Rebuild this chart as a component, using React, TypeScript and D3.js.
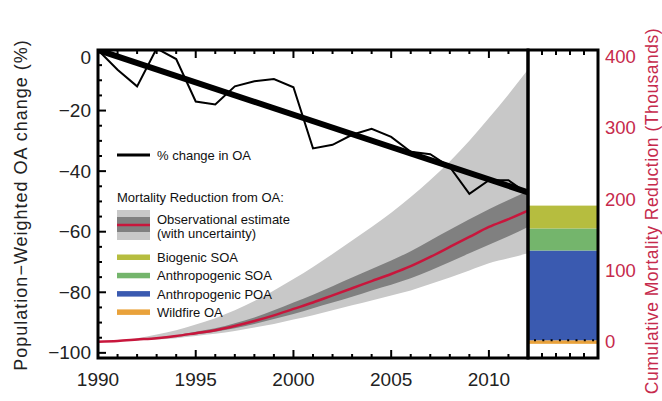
import React from 'react';
import * as d3 from 'd3';

// annual values, 1990-2012
const years = [1990, 1991, 1992, 1993, 1994, 1995, 1996, 1997, 1998, 1999, 2000, 2001,
  2002, 2003, 2004, 2005, 2006, 2007, 2008, 2009, 2010, 2011, 2012];
const oaChange = [0, -6.5, -12, 0.5, -3, -17, -18, -12, -10.3, -9.6, -12.3, -32.5,
  -31.3, -28, -26, -28.7, -33.6, -34.4, -38.6, -47.5, -43, -43, -47.5];
const trendYears = [1990, 2012];
const trendValues = [0, -47];

// cumulative mortality reduction (thousands)
const mortCentral = [0, 1, 3, 5, 8, 12, 16, 22, 29, 37, 46, 55, 65, 75, 85, 95, 106, 119, 133, 147, 161, 172, 184];
const mortUpperDark = [0, 1, 3, 6, 9, 14, 19, 26, 34, 44, 55, 66, 78, 90, 102, 114, 127, 142, 157, 172, 186, 199, 212];
const mortLowerDark = [0, 1, 2, 4, 7, 10, 14, 19, 25, 32, 39, 47, 55, 63, 72, 80, 89, 100, 112, 124, 136, 148, 161];
const mortUpperLight = [0, 2, 5, 10, 16, 24, 33, 44, 57, 72, 88, 105, 123, 142, 161, 181, 203, 227, 253, 282, 314, 347, 382];
const mortLowerLight = [0, 1, 2, 3, 5, 8, 11, 15, 20, 25, 31, 37, 44, 51, 58, 65, 72, 81, 90, 100, 110, 117, 124];

// stacked bar by source
const barNames = ['Wildfire OA', 'Anthropogenic POA', 'Anthropogenic SOA', 'Biogenic SOA'];
const barValues = [5, 126, 31, 32];
const barBase = -3;
const barColors = ['#e9a23b', '#3a5ab0', '#74b56c', '#b6bd3f'];

const leftTicks = [0, -20, -40, -60, -80, -100];
const rightTicks = [0, 100, 200, 300, 400];
const xTickLabels = [1990, 1995, 2000, 2005, 2010];

const RED = '#c8163c';
const RED_TEXT = '#c62a4c';
const LIGHT = '#c8c8c8';
const DARK = '#808080';
const FONT = '"Liberation Sans", Arial, sans-serif';

export default function App() {
  const x = d3.scaleLinear().domain([1990, 2012]).range([98, 528]);
  const yL = d3.scaleLinear().domain([-101.7, 0]).range([358, 50]);
  const yR = d3.scaleLinear().domain([0, 400]).range([341.7, 56.7]);
  const bx = d3.scaleLinear().domain([0, 5]).range([528, 598]);

  const band = (lo: number[], hi: number[]) =>
    d3.area<number>()
      .x((d, i) => x(years[i]))
      .y0((d, i) => yR(lo[i]))
      .y1((d, i) => yR(hi[i]))
      .curve(d3.curveMonotoneX)(years) as string;

  const redLine = d3.line<number>()
    .x((d, i) => x(years[i]))
    .y(d => yR(d))
    .curve(d3.curveMonotoneX)(mortCentral) as string;

  const oaLine = d3.line<number>()
    .x((d, i) => x(years[i]))
    .y(d => yL(d))(oaChange) as string;

  const trendLine = d3.line<number>()
    .x((d, i) => x(trendYears[i]))
    .y(d => yL(d))(trendValues) as string;

  // stacked segments
  let acc = barBase;
  const segs = barValues.map((v, i) => {
    const s = { y0: acc, y1: acc + v, color: barColors[i], name: barNames[i] };
    acc += v;
    return s;
  });

  const yearTicks = x.ticks(22);
  const leftMinor = yL.ticks(20).filter(v => v >= -100 && v <= 0);
  const barTicks = [1, 2, 3, 4];

  const legendItems = [
    { name: 'Biogenic SOA', color: barColors[3] },
    { name: 'Anthropogenic SOA', color: barColors[2] },
    { name: 'Anthropogenic POA', color: barColors[1] },
    { name: 'Wildfire OA', color: barColors[0] },
  ];

  return (
    <svg width={662} height={401} style={{ position: 'absolute', left: 0, top: 0, background: '#fff' }}
      fontFamily={FONT}>
      <defs>
        <clipPath id="plot">
          <rect x={98} y={50} width={430} height={308} />
        </clipPath>
      </defs>

      <g clipPath="url(#plot)">
        <path d={band(mortLowerLight, mortUpperLight)} fill={LIGHT} />
        <path d={band(mortLowerDark, mortUpperDark)} fill={DARK} />
        <path d={redLine} fill="none" stroke={RED} strokeWidth={2.5} />
        <path d={oaLine} fill="none" stroke="#000" strokeWidth={2} strokeLinejoin="miter" />
        <path d={trendLine} fill="none" stroke="#000" strokeWidth={6} />
      </g>

      {/* legend */}
      <g fontSize={13} fill="#111">
        <line x1={117} x2={150} y1={155} y2={155} stroke="#000" strokeWidth={3} />
        <text x={157} y={155} dominantBaseline="central">% change in OA</text>
        <text x={117} y={197} dominantBaseline="central">Mortality Reduction from OA:</text>
        <rect x={117} y={210} width={33} height={30} fill={LIGHT} />
        <rect x={117} y={217} width={33} height={15} fill={DARK} />
        <line x1={117} x2={150} y1={225} y2={225} stroke={RED} strokeWidth={2.5} />
        <text x={157} y={219} dominantBaseline="central">Observational estimate</text>
        <text x={157} y={233} dominantBaseline="central">(with uncertainty)</text>
        {legendItems.map((d, i) => (
          <g key={d.name}>
            <rect x={117} y={254.5 + i * 18.3} width={33} height={5.5} fill={d.color} />
            <text x={157} y={257.5 + i * 18.3} dominantBaseline="central">{d.name}</text>
          </g>
        ))}
      </g>

      {/* stacked bar */}
      {segs.map(s => (
        <rect key={s.name} x={bx(0)} width={bx(5) - bx(0)} y={yR(s.y1)} height={yR(s.y0) - yR(s.y1)} fill={s.color} />
      ))}
      <line x1={bx(0) + 6} x2={bx(5)} y1={yR(2)} y2={yR(2)} stroke="#000" strokeWidth={2} strokeDasharray="2 6.3" />

      {/* ticks on main panel */}
      {yearTicks.map(t => {
        const major = t % 5 === 0;
        const len = major ? 8 : 4;
        return (
          <g key={t}>
            <line x1={x(t)} x2={x(t)} y1={358} y2={358 - len} stroke="#000" strokeWidth={2} />
            <line x1={x(t)} x2={x(t)} y1={50} y2={50 + len} stroke="#000" strokeWidth={2} />
          </g>
        );
      })}
      {leftMinor.map(v => {
        const major = v % 20 === 0;
        return <line key={v} x1={98} x2={98 + (major ? 8 : 4)} y1={yL(v)} y2={yL(v)} stroke="#000" strokeWidth={2} />;
      })}
      {barTicks.map(t => (
        <g key={t}>
          <line x1={bx(t)} x2={bx(t)} y1={358} y2={353} stroke="#000" strokeWidth={2} />
          <line x1={bx(t)} x2={bx(t)} y1={50} y2={55} stroke="#000" strokeWidth={2} />
        </g>
      ))}

      {/* frames */}
      <rect x={98} y={50} width={430} height={308} fill="none" stroke="#000" strokeWidth={3} />
      <rect x={528} y={50} width={70} height={308} fill="none" stroke="#000" strokeWidth={3} />

      {/* axis labels */}
      <g fontSize={19} fill="#222">
        {leftTicks.map(v => (
          <text key={v} x={91} y={Math.max(yL(v), 57)} textAnchor="end" dominantBaseline="central">
            {v < 0 ? '\u2212' + Math.abs(v) : String(v)}
          </text>
        ))}
        {xTickLabels.map(t => (
          <text key={t} x={x(t)} y={379} textAnchor="middle" dominantBaseline="central">{t}</text>
        ))}
      </g>
      <g fontSize={18.5} fill={RED_TEXT}>
        {rightTicks.map(v => (
          <text key={v} x={605} y={yR(v)} dominantBaseline="central">{v}</text>
        ))}
      </g>
      <text transform="translate(21,205) rotate(-90)" textAnchor="middle" dominantBaseline="central"
        fontSize={18} letterSpacing={1} fill="#222">Population−Weighted OA change (%)</text>
      <text transform="translate(652,211) rotate(-90)" textAnchor="middle" dominantBaseline="central"
        fontSize={17.5} letterSpacing={0.5} fill={RED_TEXT}>Cumulative Mortality Reduction (Thousands)</text>
    </svg>
  );
}
